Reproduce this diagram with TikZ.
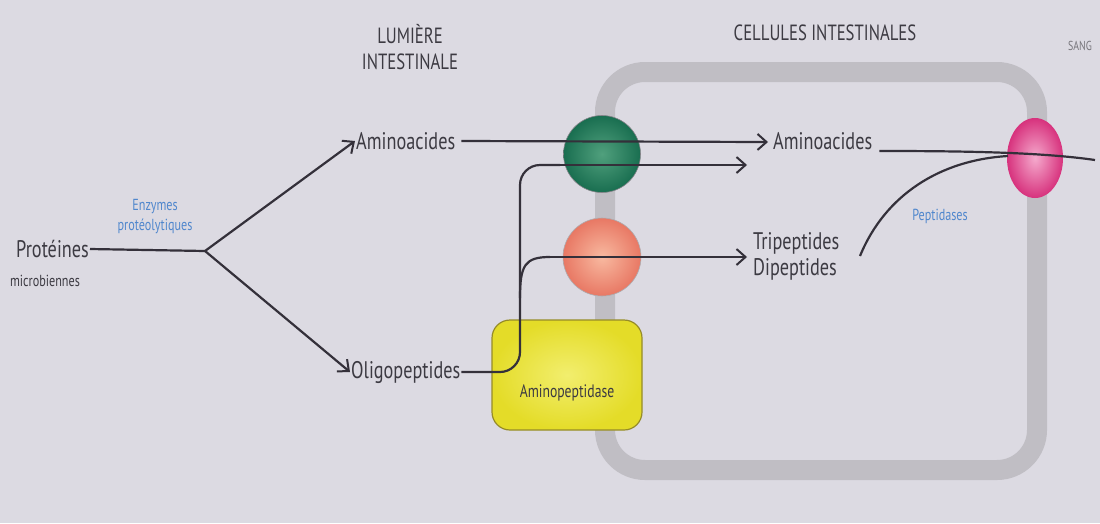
\documentclass[tikz,border=0pt]{standalone}
\usepackage{fontspec}
\setmainfont{PT Sans}[FakeStretch=0.76]
\usetikzlibrary{arrows.meta,shapes.geometric}
\definecolor{bg}{RGB}{220,218,226}
\definecolor{band}{RGB}{192,190,196}
\definecolor{ink}{RGB}{52,48,58}
\definecolor{txt}{RGB}{60,58,66}
\definecolor{blu}{RGB}{80,135,205}
\definecolor{yel}{RGB}{232,226,60}
\definecolor{yelb}{RGB}{150,140,40}
\tikzset{
  lbl/.style={text=txt,inner sep=1pt,font=\fontsize{24}{26}\selectfont},
  hdr/.style={text=txt,inner sep=1pt,font=\fontsize{22}{26}\selectfont,align=center},
  small/.style={text=txt,inner sep=1pt,font=\fontsize{16}{18}\selectfont},
  enz/.style={text=blu,inner sep=1pt,font=\fontsize{16}{20}\selectfont,align=center},
  flow/.style={draw=ink,line width=2.2pt},
  arr/.style={flow,-{Straight Barb[length=9pt,width=16pt,line width=2pt]}},
}
\begin{document}
\begin{tikzpicture}[x=1pt,y=-1pt]
\fill[bg] (0,0) rectangle (1100,523);
\useasboundingbox (0,0) rectangle (1100,523);
% cell band
\draw[band,line width=20pt,rounded corners=40pt] (605,72) rectangle (1037,470);
% transporters
\node[circle,minimum size=77pt,inner sep=0pt,draw=ink!60,line width=0.6pt,
  inner color={rgb,255:red,80;green,160;blue,125},outer color={rgb,255:red,25;green,110;blue,80}] (green) at (602,154) {};
\node[circle,minimum size=78pt,inner sep=0pt,draw=ink!40,line width=0.6pt,
  inner color={rgb,255:red,248;green,185;blue,160},outer color={rgb,255:red,232;green,120;blue,100}] (orange) at (602,257) {};
\node[ellipse,minimum width=56pt,minimum height=80pt,inner sep=0pt,
  inner color={rgb,255:red,245;green,170;blue,205},outer color={rgb,255:red,215;green,50;blue,125}] (pink) at (1035,158) {};
% enzyme box
\node[draw=yelb,line width=1.2pt,rounded corners=18pt,minimum width=150pt,minimum height=110pt,
  inner color={rgb,255:red,242;green,238;blue,110},outer color={rgb,255:red,228;green,220;blue,40}] (amp) at (567,375) {};
\node[text=txt,font=\fontsize{18}{20}\selectfont] (amptext) at (567,393) {Aminopeptidase};
% headers
\node[hdr] (lum) at (410,47) {LUMIÈRE\\INTESTINALE};
\node[hdr] (cell) at (825,33) {CELLULES INTESTINALES};
\node[text=txt!70,font=\fontsize{13}{14}\selectfont] (sang) at (1080,46) {SANG};
% left
\node[lbl,anchor=east] (prot) at (90,249) {Protéines};
\node[small] (micro) at (45,281) {microbiennes};
\node[enz] (enz) at (155,217) {Enzymes\\protéolytiques};
\coordinate (fork) at (205,251);
\node[lbl,anchor=west] (aa1) at (355,141) {Aminoacides};
\node[lbl,anchor=west] (oligo) at (350,372) {Oligopeptides};
\draw[flow] (prot.east) -- (fork);
\draw[arr] (fork) -- (aa1.west);
\draw[arr] (fork) -- (oligo.west);
% right texts
\node[lbl,anchor=west] (aa2) at (772,141) {Aminoacides};
\node[lbl,anchor=west,align=left] (tri) at (752,256) {Tripeptides\\Dipeptides};
\node[enz] (pep) at (940,216) {Peptidases};
\coordinate (e1) at (768,142);
\coordinate (e2) at (747,165);
\coordinate (e3) at (747,257);
\coordinate (out) at (1095,160);
\coordinate (pj) at (1008,156);
\coordinate (pstart) at (860,256);
% flows
\draw[arr] (aa1.east) ++(5,0) -- (e1);
\draw[flow,rounded corners=20pt] (oligo.east) -- (520,372) -- (520,165) -- (560,165);
\draw[arr] (555,165) -- (e2);
\draw[flow] (520,298) .. controls (520,265) and (525,257) .. (550,257);
\draw[arr] (548,257) -- (e3);
\draw[flow] (aa2.east) ++(6,10) .. controls (960,151) and (1040,152) .. (out);
\draw[flow] (pstart) .. controls (885,195) and (940,160) .. (pj);
\end{tikzpicture}
\end{document}
